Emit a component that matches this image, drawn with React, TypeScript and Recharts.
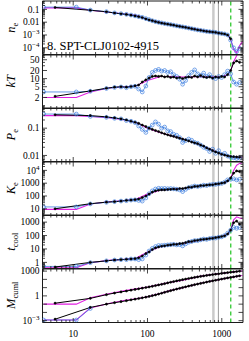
import React from 'react';
import { LineChart, Line, XAxis, YAxis, ReferenceLine } from 'recharts';

const FONT = '"Liberation Serif", "DejaVu Serif", serif';
const AX = '#1a1a1a';
const BLUE = '#3f7fe0';
const MAG = '#e21fe2';
const GREY1 = '#cacaca';
const GREY2 = '#9a9a9a';
const GREEN = '#1fc41f';

// ---------- radii (kpc) ----------
const rBlack = [5.7, 17, 28, 36, 44, 52, 60, 68, 76, 85, 95, 105, 116, 128, 141, 155, 170, 187, 205, 225, 247, 271, 297, 326, 358, 393, 431, 473, 519, 570, 625, 686, 753, 826, 907, 995, 1092, 1198, 1315, 1443, 1584, 1738];
const rBlue = [4, 11, 17, 28, 36, 44, 52, 60, 68, 76, 85, 95, 105, 116, 128, 141, 155, 170, 187, 205, 225, 247, 271, 297, 326, 358, 393, 431, 473, 519, 570, 625, 686, 753, 826, 907, 995, 1092, 1198, 1315, 1443, 1584, 1738];
const rModel = [4, 11, 17, 30, 50, 70, 100, 150, 200, 300, 500, 700, 1000, 1200, 1315, 1443, 1584, 1738, 1900];

// ---------- n_e ----------
const neBlack = [0.14, 0.085, 0.065, 0.052, 0.045, 0.04, 0.035, 0.031, 0.027, 0.023, 0.018, 0.015, 0.013, 0.011, 0.0095, 0.0085, 0.0077, 0.007, 0.0064, 0.0058, 0.0052, 0.0047, 0.0043, 0.0039, 0.0035, 0.0031, 0.0028, 0.0025, 0.0023, 0.0021, 0.0019, 0.0018, 0.0017, 0.0016, 0.0014, 0.0013, 0.0012, 0.001, 0.0005, null, null, null];
const neBlue = [0.15, 0.15, 0.088, 0.066, 0.053, 0.046, 0.041, 0.036, 0.031, 0.027, 0.024, 0.019, 0.016, 0.013, 0.011, 0.0098, 0.0087, 0.0078, 0.0071, 0.0065, 0.0058, 0.0052, 0.0047, 0.0043, 0.0039, 0.0035, 0.0031, 0.0028, 0.0025, 0.0023, 0.0021, 0.0019, 0.0018, 0.0017, 0.0016, 0.0014, 0.0013, 0.0012, 0.001, 0.0004, 0.0001, 0.00005, 0.00009];
const neModel = [0.13, 0.13, 0.085, 0.06, 0.043, 0.034, 0.016, 0.0095, 0.0066, 0.0044, 0.0025, 0.0018, 0.0013, 0.001, 0.0005, 0.00007, 0.00004, 0.00015, 0.0003];

// ---------- kT ----------
const ktBlack = [2.2, 3.5, 4.4, 4.8, 5.0, 4.8, 5.1, 5.4, 5.8, 7.5, 9.0, 10.5, 12, 12.5, 12, 12.5, 11.5, 12, 11, 11.5, 10.5, 11, 10, 11, 11.5, 11, 12.5, 11.5, 13, 11.5, 11, 11.5, 10.5, 11.5, 11, 12, 11.5, 14, 20, 38, 45, 40];
const ktBlue = [3.2, 3.2, 3.4, 4.3, 4.7, 4.9, 4.6, 5.0, 5.2, 4.1, 3.2, 5.3, 11, 17, 20, 22, 19, 20, 17, 18, 14, 12, 9.5, 6.2, 8.5, 13, 17, 21, 15, 13, 16, 12, 14, 11, 10, 12, 11, 14, 19, 15, 7.5, 6.2, 7.2];
const ktModel = [2.0, 2.0, 3.2, 4.5, 5.0, 5.3, 8.5, 12, 12, 11.5, 12, 11.5, 12, 14, 19, 42, 70, 120, 160];

// ---------- P_e ----------
const peBlack = [0.31, 0.29, 0.26, 0.24, 0.22, 0.2, 0.18, 0.165, 0.15, 0.13, 0.115, 0.1, 0.09, 0.082, 0.075, 0.068, 0.062, 0.057, 0.053, 0.05, 0.046, 0.043, 0.04, 0.037, 0.034, 0.031, 0.029, 0.027, 0.024, 0.022, 0.019, 0.017, 0.015, 0.0135, 0.0122, 0.011, 0.0103, 0.0097, 0.0092, 0.009, 0.0088, 0.0086];
const peBlue = [0.33, 0.33, 0.27, 0.25, 0.23, 0.22, 0.19, 0.18, 0.16, 0.12, 0.09, 0.07, 0.1, 0.13, 0.17, 0.14, 0.1, 0.11, 0.08, 0.075, 0.06, 0.055, 0.045, 0.03, 0.035, 0.04, 0.036, 0.03, 0.028, 0.024, 0.02, 0.018, 0.014, 0.017, 0.012, 0.015, 0.011, 0.012, 0.0095, 0.0085, 0.0082, 0.0078, 0.008];
const peModel = [0.29, 0.29, 0.27, 0.24, 0.2, 0.16, 0.1, 0.068, 0.055, 0.04, 0.025, 0.017, 0.011, 0.0098, 0.0092, 0.009, 0.0088, 0.0087, 0.0086];

// ---------- K_e ----------
const keBlack = [10, 25, 33, 36, 40, 45, 48, 52, 58, 75, 100, 140, 200, 250, 280, 300, 300, 320, 330, 350, 330, 380, 380, 420, 480, 480, 560, 560, 650, 650, 700, 750, 750, 850, 900, 1000, 1100, 1500, 2500, 6000, 9000, 8000];
const keBlue = [14, 14, 24, 32, 36, 40, 43, 48, 50, 45, 40, 70, 150, 250, 350, 400, 380, 390, 370, 380, 360, 340, 300, 220, 330, 450, 520, 600, 550, 600, 700, 650, 750, 800, 800, 900, 950, 1200, 1800, 2000, 2200, 1800, 2000];
const keModel = [9, 9, 24, 36, 45, 55, 140, 290, 330, 380, 600, 750, 1000, 1400, 2500, 10000, 25000, 35000, 40000];

// ---------- t_cool ----------
const tcBlack = [0.45, 1.0, 1.3, 1.5, 1.6, 1.7, 1.8, 1.9, 2.2, 3.0, 4.5, 6, 9, 12, 14, 16, 17, 19, 20, 22, 22, 25, 26, 30, 35, 36, 42, 44, 50, 52, 55, 60, 62, 70, 75, 85, 95, 130, 250, 900, 1200, 700];
const tcBlue = [0.5, 0.5, 0.95, 1.3, 1.5, 1.6, 1.6, 1.8, 1.8, 1.6, 1.8, 3.5, 7, 11, 15, 18, 18, 19, 20, 21, 22, 20, 21, 17, 24, 32, 36, 42, 42, 48, 55, 52, 60, 65, 65, 75, 80, 100, 150, 250, 400, 350, 400];
const tcModel = [0.4, 0.4, 0.95, 1.4, 1.7, 2.0, 6, 15, 20, 26, 45, 60, 85, 130, 250, 1500, 2500, 2000, 1800];

// ---------- M_cuml ----------
const mTotBlack = [0.13, 0.5, 1.4, 2.2, 3.0, 3.9, 4.9, 6.0, 7.2, 8.6, 10.3, 12, 14.5, 17.5, 21, 25, 30, 37, 45, 54, 65, 77, 92, 108, 127, 148, 172, 200, 230, 262, 298, 337, 380, 425, 475, 530, 590, 655, 725, 800, 880, 970];
const mGasBlack = [0.0015, 0.04, 0.1, 0.15, 0.2, 0.26, 0.33, 0.4, 0.48, 0.58, 0.7, 0.85, 1.05, 1.3, 1.65, 2.1, 2.7, 3.4, 4.3, 5.4, 6.7, 8.3, 10.2, 12.5, 15.3, 18.5, 22.5, 27, 32.5, 39, 47, 56, 66, 78, 92, 108, 127, 148, 172, 200, 232, 270];
const mGasBlue = [0.0012, 0.0012, 0.03];
const mTotModel = [0.1, 0.1, 0.6, 1.8, 4.5, 7, 12, 25, 43, 80, 230, 360, 530, 650, 725, 800, 880, 970, 1060];
const mGasModel = [0.0012, 0.0012, 0.035, 0.12, 0.3, 0.45, 0.8, 2.0, 4.3, 10, 32, 60, 108, 150, 172, 200, 232, 270, 300];

// ---------- axes ----------
const X_DOMAIN: [number, number] = [3.86, 1930];
const X_LABEL_VALUES = [10, 100, 1000];
const X_LABEL_TEXTS = ['10', '100', '1000'];
const GREY_BAND = [771];
const GREY_LINE = [900];
const GREEN_LINE = [1321];

const neLabelValues = [0.1, 0.01, 0.001, 0.0001];
const neLabelTexts = ['0.1', '0.01', '10^-3', '10^-4'];
const ktLabelValues = [2, 5, 10, 20, 50];
const ktLabelTexts = ['2', '5', '10', '20', '50'];
const peLabelValues = [0.1, 0.01];
const peLabelTexts = ['0.1', '0.01'];
const keLabelValues = [10000, 1000, 100, 10];
const keLabelTexts = ['10^4', '1000', '100', '10'];
const tcLabelValues = [1000, 100, 10, 1];
const tcLabelTexts = ['1000', '100', '10', '1'];
const mLabelValues = [1000, 1, 0.001];
const mLabelTexts = ['1000', '1', '10^-3'];

const PANEL_TOP = [1, 54.5, 108, 161.5, 215, 268.5];
const PANEL_H = 53.5;
const PAD = 3;
const LEFT = 42.5;
const RIGHT_M = 6;
const W = 249;
const TICK_FS = 9.5;

function logTicks(lo: number, hi: number): number[] {
  const out: number[] = [];
  for (let e = Math.floor(Math.log10(lo)); e <= Math.ceil(Math.log10(hi)); e++) {
    for (let m = 1; m <= 9; m++) {
      const v = Number((m * Math.pow(10, e)).toPrecision(6));
      if (v >= lo && v <= hi) out.push(v);
    }
  }
  return out;
}
function isDecade(v: number) {
  const l = Math.log10(v);
  return Math.abs(l - Math.round(l)) < 1e-6;
}
function decades(lo: number, hi: number): number[] {
  return logTicks(lo, hi).filter((v) => isDecade(v));
}
function close(a: number, b: number) {
  return Math.abs(a - b) <= 1e-6 * Math.max(Math.abs(a), Math.abs(b));
}
function pts(xs: number[], ys: (number | null)[]) {
  return xs.map((r, i) => ({ r, v: i < ys.length ? ys[i] : null }));
}

const X_TICKS = logTicks(X_DOMAIN[0], X_DOMAIN[1]);

type Series = { data: { r: number; v: number | null }[]; kind: 'black' | 'blue' | 'model' };
type PanelCfg = {
  domain: [number, number];
  ticks: number[];
  major: number[];
  labelValues: number[];
  labelTexts: string[];
  series: Series[];
};

function mkPanel(domain: [number, number], labelValues: number[], labelTexts: string[], series: Series[], major?: number[], ticks?: number[]): PanelCfg {
  return {
    domain,
    ticks: ticks ?? logTicks(domain[0], domain[1]),
    major: major ?? decades(domain[0], domain[1]),
    labelValues,
    labelTexts,
    series,
  };
}

const panels: PanelCfg[] = [
  mkPanel([3e-5, 0.45], neLabelValues, neLabelTexts, [
    { data: pts(rModel, neModel), kind: 'model' },
    { data: pts(rBlue, neBlue), kind: 'blue' },
    { data: pts(rBlack, neBlack), kind: 'black' },
  ]),
  mkPanel([0.78, 75], ktLabelValues, ktLabelTexts, [
    { data: pts(rModel, ktModel), kind: 'model' },
    { data: pts(rBlue, ktBlue), kind: 'blue' },
    { data: pts(rBlack, ktBlack), kind: 'black' },
  ], ktLabelValues),
  mkPanel([0.006, 0.55], peLabelValues, peLabelTexts, [
    { data: pts(rModel, peModel), kind: 'model' },
    { data: pts(rBlue, peBlue), kind: 'blue' },
    { data: pts(rBlack, peBlack), kind: 'black' },
  ]),
  mkPanel([3, 45000], keLabelValues, keLabelTexts, [
    { data: pts(rModel, keModel), kind: 'model' },
    { data: pts(rBlue, keBlue), kind: 'blue' },
    { data: pts(rBlack, keBlack), kind: 'black' },
  ]),
  mkPanel([0.35, 3400], tcLabelValues, tcLabelTexts, [
    { data: pts(rModel, tcModel), kind: 'model' },
    { data: pts(rBlue, tcBlue), kind: 'blue' },
    { data: pts(rBlack, tcBlack), kind: 'black' },
  ]),
  mkPanel([6e-4, 1800], mLabelValues, mLabelTexts, [
    { data: pts(rModel, mTotModel), kind: 'model' },
    { data: pts(rModel, mGasModel), kind: 'model' },
    { data: pts(rBlue, mGasBlue), kind: 'blue' },
    { data: pts(rBlack, mTotBlack), kind: 'black' },
    { data: pts(rBlack, mGasBlack), kind: 'black' },
  ], undefined, decades(6e-4, 1800)),
];

function tickText(text: string, x: number, y: number, anchor: 'end' | 'middle') {
  if (text.startsWith('10^')) {
    const e = text.slice(3).replace('-', '\u2212');
    return (
      <text x={x} y={y} textAnchor={anchor} fontSize={TICK_FS} fontFamily={FONT} fill="#000">
        10<tspan dy={-4} fontSize={7}>{e}</tspan>
      </text>
    );
  }
  return (
    <text x={x} y={y} textAnchor={anchor} fontSize={TICK_FS} fontFamily={FONT} fill="#000">
      {text}
    </text>
  );
}

const makeXTick = (side: 'top' | 'bottom', labels: boolean) => (props: any) => {
  const { x, y, payload } = props;
  const v = payload.value as number;
  const major = isDecade(v);
  const len = major ? 4.5 : 2.5;
  const dir = side === 'bottom' ? -1 : 1;
  const li = X_LABEL_VALUES.findIndex((m) => close(m, v));
  return (
    <g>
      <line x1={x} x2={x} y1={y} y2={y + dir * len} stroke={AX} strokeWidth={0.8} />
      {labels && li >= 0 && tickText(X_LABEL_TEXTS[li], x, y + 14, 'middle')}
    </g>
  );
};

const makeYTick = (side: 'left' | 'right', cfg: PanelCfg) => (props: any) => {
  const { x, y, payload } = props;
  const v = payload.value as number;
  const major = cfg.major.some((m) => close(m, v));
  const len = major ? 4.5 : 2.5;
  const dir = side === 'left' ? 1 : -1;
  const li = cfg.labelValues.findIndex((m) => close(m, v));
  return (
    <g>
      <line x1={x} x2={x + dir * len} y1={y} y2={y} stroke={AX} strokeWidth={0.8} />
      {side === 'left' && li >= 0 && tickText(cfg.labelTexts[li], x - 3, y + 3.3, 'end')}
    </g>
  );
};

function renderSeries(s: Series, i: number) {
  if (s.kind === 'black') {
    return (
      <Line key={i} xAxisId="b" yAxisId="l" data={s.data} dataKey="v" stroke="#000" strokeWidth={1}
        dot={{ r: 1.1, fill: '#000', stroke: '#000', strokeWidth: 0.5 }} connectNulls isAnimationActive={false} />
    );
  }
  if (s.kind === 'blue') {
    return (
      <Line key={i} xAxisId="b" yAxisId="l" data={s.data} dataKey="v" stroke={BLUE} strokeWidth={0.8}
        dot={{ r: 1.9, fill: 'none', stroke: BLUE, strokeWidth: 0.7 }} isAnimationActive={false} />
    );
  }
  return (
    <Line key={i} xAxisId="b" yAxisId="l" data={s.data} dataKey="v" stroke={MAG} strokeWidth={1.1}
      dot={false} isAnimationActive={false} />
  );
}

function Panel({ cfg, index }: { cfg: PanelCfg; index: number }) {
  const top = PANEL_TOP[index];
  const last = index === PANEL_TOP.length - 1;
  const extraBottom = last ? 18 : 0;
  const h = PANEL_H + 2 * PAD + extraBottom;
  const axisLine = { stroke: AX, strokeWidth: 1 };
  return (
    <div style={{ position: 'absolute', left: 0, top: top - PAD, width: W, height: h }}>
      <LineChart width={W} height={h} margin={{ top: PAD - 1, right: RIGHT_M - 1, bottom: PAD - 1 + extraBottom, left: 0 }}>
        <XAxis xAxisId="b" orientation="bottom" type="number" dataKey="r" scale="log" domain={X_DOMAIN}
          allowDataOverflow ticks={X_TICKS} interval={0} height={1} tickSize={0} tickMargin={0}
          tickLine={false} axisLine={axisLine} tick={makeXTick('bottom', last)} />
        <XAxis xAxisId="t" orientation="top" type="number" dataKey="r" scale="log" domain={X_DOMAIN}
          allowDataOverflow ticks={X_TICKS} interval={0} height={1} tickSize={0} tickMargin={0}
          tickLine={false} axisLine={axisLine} tick={makeXTick('top', false)} />
        <YAxis yAxisId="l" orientation="left" type="number" scale="log" domain={cfg.domain}
          allowDataOverflow ticks={cfg.ticks} interval={0} width={LEFT} tickSize={0} tickMargin={0}
          tickLine={false} axisLine={axisLine} tick={makeYTick('left', cfg)} />
        <YAxis yAxisId="r" orientation="right" type="number" scale="log" domain={cfg.domain}
          allowDataOverflow ticks={cfg.ticks} interval={0} width={1} tickSize={0} tickMargin={0}
          tickLine={false} axisLine={axisLine} tick={makeYTick('right', cfg)} />
        {GREY_BAND.map((x) => (
          <ReferenceLine key={'g' + x} xAxisId="b" yAxisId="l" x={x} stroke={GREY1} strokeWidth={2.5} />
        ))}
        {GREY_LINE.map((x) => (
          <ReferenceLine key={'h' + x} xAxisId="b" yAxisId="l" x={x} stroke={GREY2} strokeWidth={1} />
        ))}
        {GREEN_LINE.map((x) => (
          <ReferenceLine key={'k' + x} xAxisId="b" yAxisId="l" x={x} stroke={GREEN} strokeWidth={1.2} strokeDasharray="4 3" />
        ))}
        {cfg.series.map(renderSeries)}
      </LineChart>
    </div>
  );
}

const TITLE_X = 15;

export default function App() {
  const cy = (i: number) => PANEL_TOP[i] + PANEL_H / 2;
  const tProps = { textAnchor: 'middle' as const, fontFamily: FONT, fontSize: 12.5, fill: '#000' };
  return (
    <div style={{ position: 'absolute', left: 0, top: 0, width: W, height: 341, background: '#fff', overflow: 'hidden' }}>
      {panels.map((cfg, i) => (
        <Panel key={i} cfg={cfg} index={i} />
      ))}
      <svg width={W} height={341} style={{ position: 'absolute', left: 0, top: 0, pointerEvents: 'none' }}>
        <text transform={`translate(${TITLE_X}, ${cy(0)}) rotate(-90)`} {...tProps}>
          <tspan fontStyle="italic">n</tspan><tspan fontSize={8.5} dy={2.5}>e</tspan>
        </text>
        <text transform={`translate(${TITLE_X}, ${cy(1)}) rotate(-90)`} {...tProps} fontStyle="italic">kT</text>
        <text transform={`translate(${TITLE_X}, ${cy(2)}) rotate(-90)`} {...tProps}>
          <tspan fontStyle="italic">P</tspan><tspan fontSize={8.5} dy={2.5}>e</tspan>
        </text>
        <text transform={`translate(${TITLE_X}, ${cy(3)}) rotate(-90)`} {...tProps}>
          <tspan fontStyle="italic">K</tspan><tspan fontSize={8.5} dy={2.5}>e</tspan>
        </text>
        <text transform={`translate(${TITLE_X}, ${cy(4)}) rotate(-90)`} {...tProps}>
          <tspan fontStyle="italic">t</tspan><tspan fontSize={8.5} dy={2.5}>cool</tspan>
        </text>
        <text transform={`translate(${TITLE_X}, ${cy(5)}) rotate(-90)`} {...tProps}>
          <tspan fontStyle="italic">M</tspan><tspan fontSize={8.5} dy={2.5}>cuml</tspan>
        </text>
        <text x={47} y={50} fontFamily={FONT} fontSize={12.5} fill="#000">8. SPT-CLJ0102-4915</text>
      </svg>
    </div>
  );
}
